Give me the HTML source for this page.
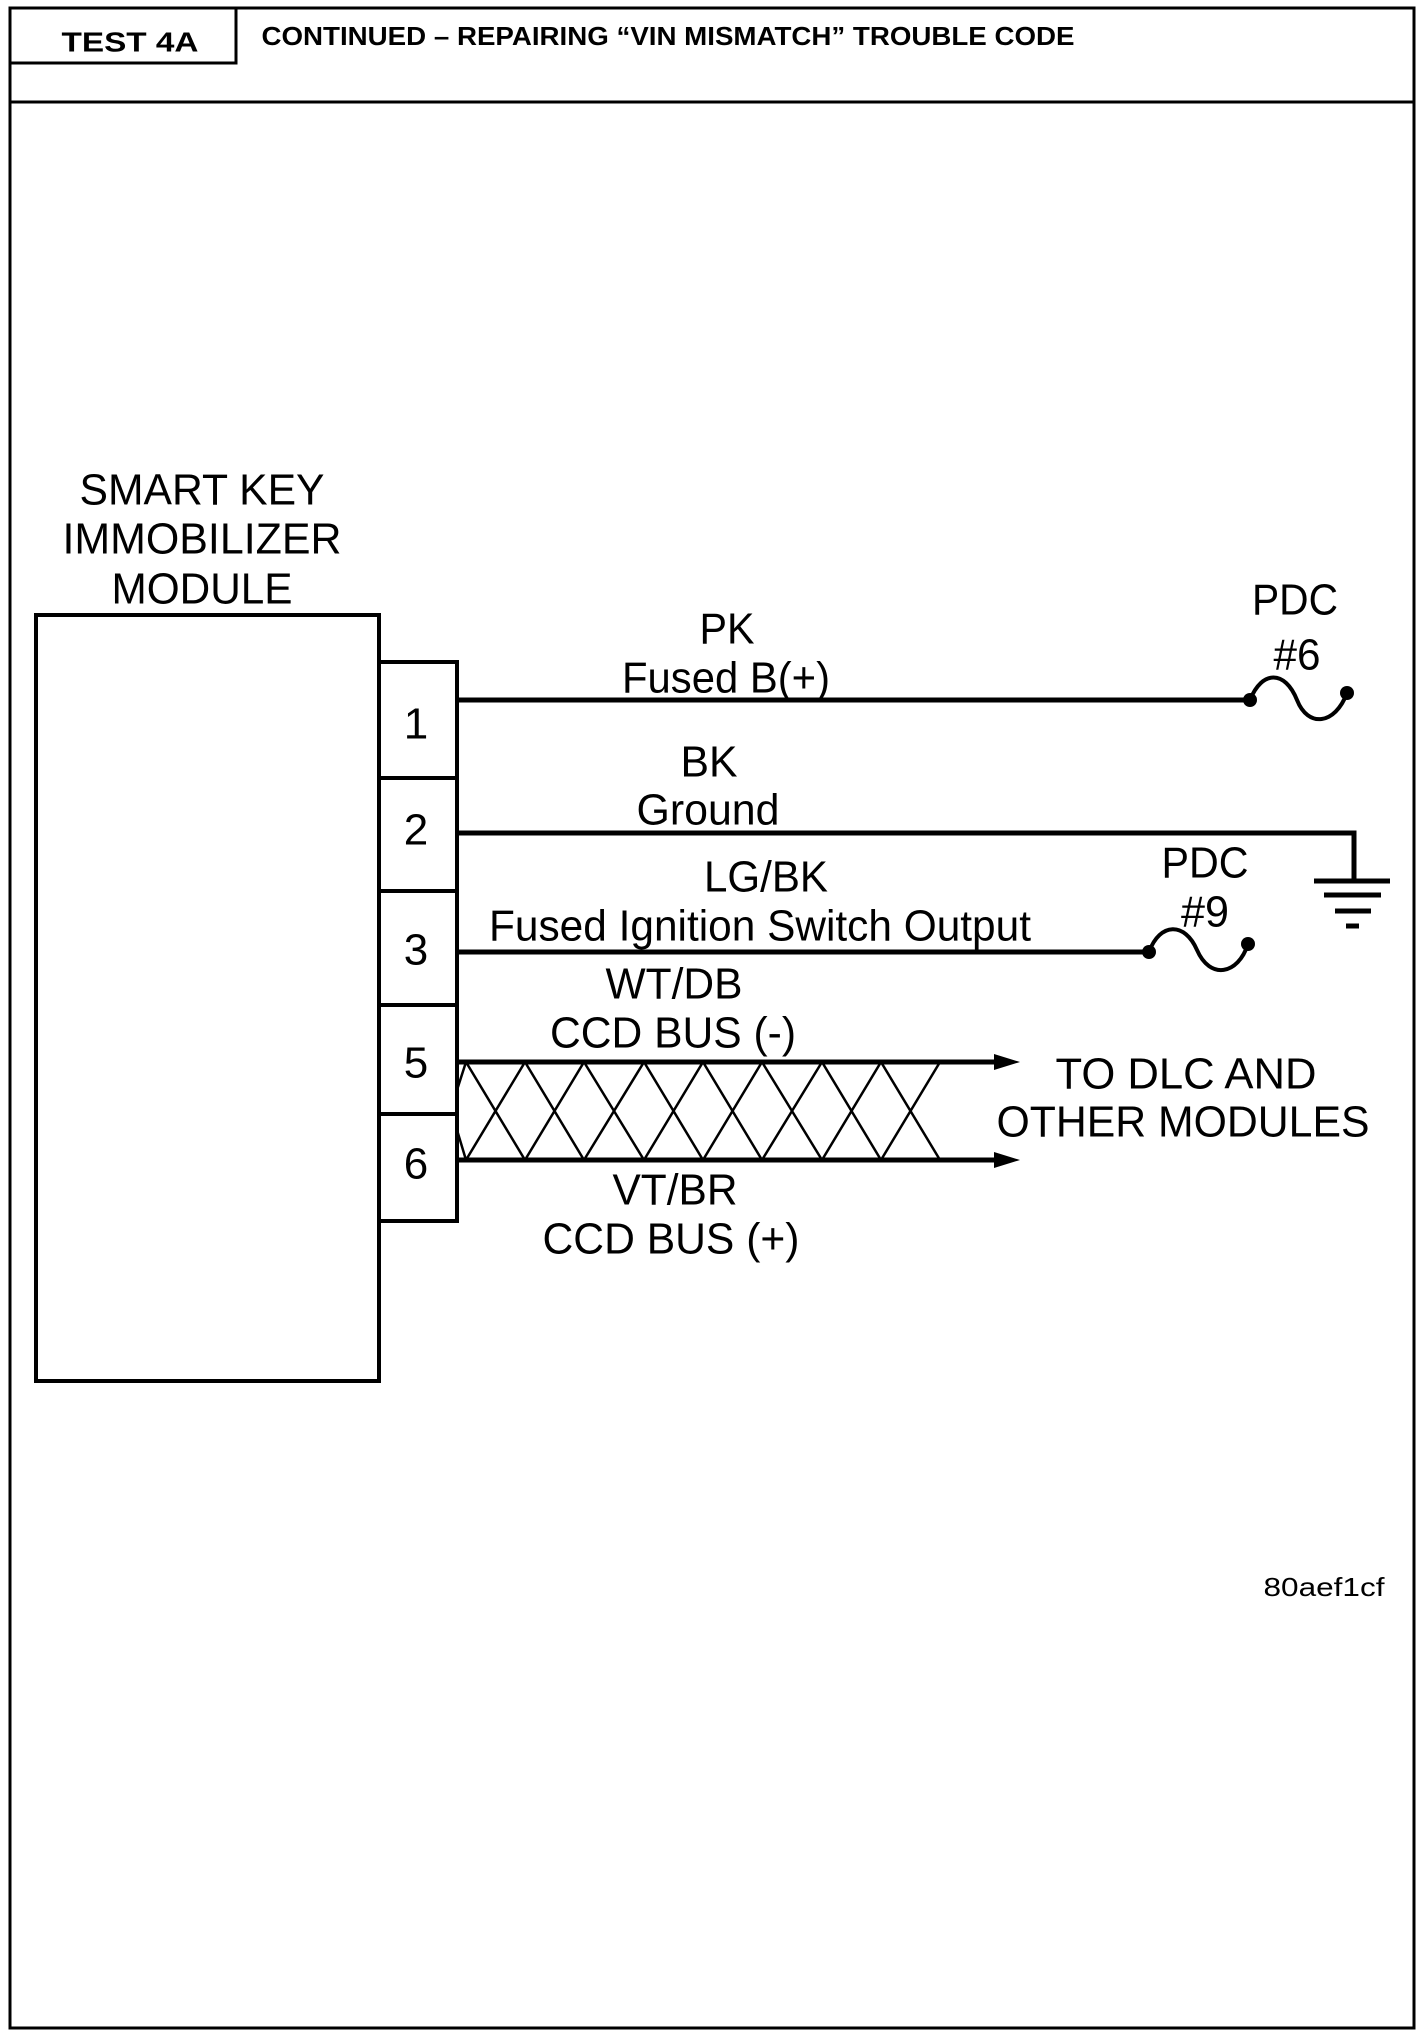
<!DOCTYPE html>
<html><head><meta charset="utf-8"><style>
html,body{margin:0;padding:0;background:#fff}
svg{display:block}
text{font-family:"Liberation Sans",sans-serif;fill:#000}
</style></head><body>
<svg width="1424" height="2038" viewBox="0 0 1424 2038" xmlns="http://www.w3.org/2000/svg">
<g fill="none" stroke="#000">
<rect x="10" y="8" width="1404" height="2020" stroke-width="3"/>
<line x1="10" y1="102" x2="1414" y2="102" stroke-width="3"/>
<polyline points="236,8 236,63 10,63" stroke-width="3"/>
<rect x="36" y="615" width="343" height="766" stroke-width="4"/>
<rect x="379" y="662" width="78" height="559" stroke-width="4"/>
<line x1="379" y1="778" x2="457" y2="778" stroke-width="4"/>
<line x1="379" y1="891" x2="457" y2="891" stroke-width="4"/>
<line x1="379" y1="1005" x2="457" y2="1005" stroke-width="4"/>
<line x1="379" y1="1114" x2="457" y2="1114" stroke-width="4"/>
<line x1="457" y1="700" x2="1250" y2="700" stroke-width="5"/>
<path d="M1250,700 C1262,670 1285,670 1297,700 C1308,728 1335,725 1347,693" stroke-width="4"/>
<polyline points="457,833 1354,833 1354,881" stroke-width="5"/>
<line x1="1314" y1="881" x2="1390" y2="881" stroke-width="5"/>
<line x1="1324" y1="895" x2="1381" y2="895" stroke-width="5"/>
<line x1="1335" y1="911" x2="1371" y2="911" stroke-width="5"/>
<line x1="1346" y1="926" x2="1359" y2="926" stroke-width="5"/>
<line x1="457" y1="952" x2="1149" y2="952" stroke-width="5"/>
<path d="M1149,952 C1160,922 1185,922 1197,950 C1210,980 1238,975 1248,944" stroke-width="4"/>
<line x1="457" y1="1062" x2="1000" y2="1062" stroke-width="5"/>
<line x1="457" y1="1160" x2="1000" y2="1160" stroke-width="5"/>
<path stroke-width="2.5" d="M466,1062 L525,1160 M525,1062 L466,1160 M525,1062 L584,1160 M584,1062 L525,1160 M584,1062 L644,1160 M644,1062 L584,1160 M644,1062 L703,1160 M703,1062 L644,1160 M703,1062 L762,1160 M762,1062 L703,1160 M762,1062 L822,1160 M822,1062 L762,1160 M822,1062 L881,1160 M881,1062 L822,1160 M881,1062 L940,1160 M940,1062 L881,1160 M457,1090 L466,1062 M457,1130 L466,1160"/>
</g>
<g fill="#000">
<circle cx="1250" cy="700" r="7"/><circle cx="1347" cy="693" r="7"/>
<circle cx="1149" cy="952" r="7"/><circle cx="1248" cy="944" r="7"/>
<polygon points="1020,1062 994,1054 994,1070"/>
<polygon points="1020,1160 994,1152 994,1168"/>
</g>
<g font-weight="bold" dominant-baseline="central" text-anchor="middle">
<text x="130" y="42" font-size="28" textLength="137" lengthAdjust="spacingAndGlyphs">TEST 4A</text>
<text x="668" y="36" font-size="26" textLength="813" lengthAdjust="spacingAndGlyphs">CONTINUED – REPAIRING “VIN MISMATCH” TROUBLE CODE</text>
</g>
<g font-size="44" dominant-baseline="central" text-anchor="middle">
<text x="202" y="490" textLength="245" lengthAdjust="spacingAndGlyphs">SMART KEY</text>
<text x="202" y="539" textLength="279" lengthAdjust="spacingAndGlyphs">IMMOBILIZER</text>
<text x="202" y="589" textLength="181" lengthAdjust="spacingAndGlyphs">MODULE</text>
<text x="416" y="724">1</text>
<text x="416" y="830">2</text>
<text x="416" y="950">3</text>
<text x="416" y="1063">5</text>
<text x="416" y="1164">6</text>
<text x="727" y="629" textLength="55" lengthAdjust="spacingAndGlyphs">PK</text>
<text x="726" y="678" textLength="208" lengthAdjust="spacingAndGlyphs">Fused B(+)</text>
<text x="709" y="762" textLength="57" lengthAdjust="spacingAndGlyphs">BK</text>
<text x="708" y="810" textLength="143" lengthAdjust="spacingAndGlyphs">Ground</text>
<text x="766" y="877" textLength="124" lengthAdjust="spacingAndGlyphs">LG/BK</text>
<text x="760" y="926" textLength="542" lengthAdjust="spacingAndGlyphs">Fused Ignition Switch Output</text>
<text x="674" y="984" textLength="137" lengthAdjust="spacingAndGlyphs">WT/DB</text>
<text x="673" y="1033" textLength="246" lengthAdjust="spacingAndGlyphs">CCD BUS (-)</text>
<text x="675" y="1190" textLength="125" lengthAdjust="spacingAndGlyphs">VT/BR</text>
<text x="671" y="1239" textLength="257" lengthAdjust="spacingAndGlyphs">CCD BUS (+)</text>
<text x="1186" y="1074" textLength="261" lengthAdjust="spacingAndGlyphs">TO DLC AND</text>
<text x="1183" y="1122" textLength="373" lengthAdjust="spacingAndGlyphs">OTHER MODULES</text>
<text x="1295" y="600" textLength="86" lengthAdjust="spacingAndGlyphs">PDC</text>
<text x="1297" y="655" textLength="47" lengthAdjust="spacingAndGlyphs">#6</text>
<text x="1205" y="863" textLength="87" lengthAdjust="spacingAndGlyphs">PDC</text>
<text x="1205" y="912" textLength="48" lengthAdjust="spacingAndGlyphs">#9</text>
<text x="1324" y="1587" font-size="26" textLength="121" lengthAdjust="spacingAndGlyphs">80aef1cf</text>
</g>
</svg>
</body></html>
